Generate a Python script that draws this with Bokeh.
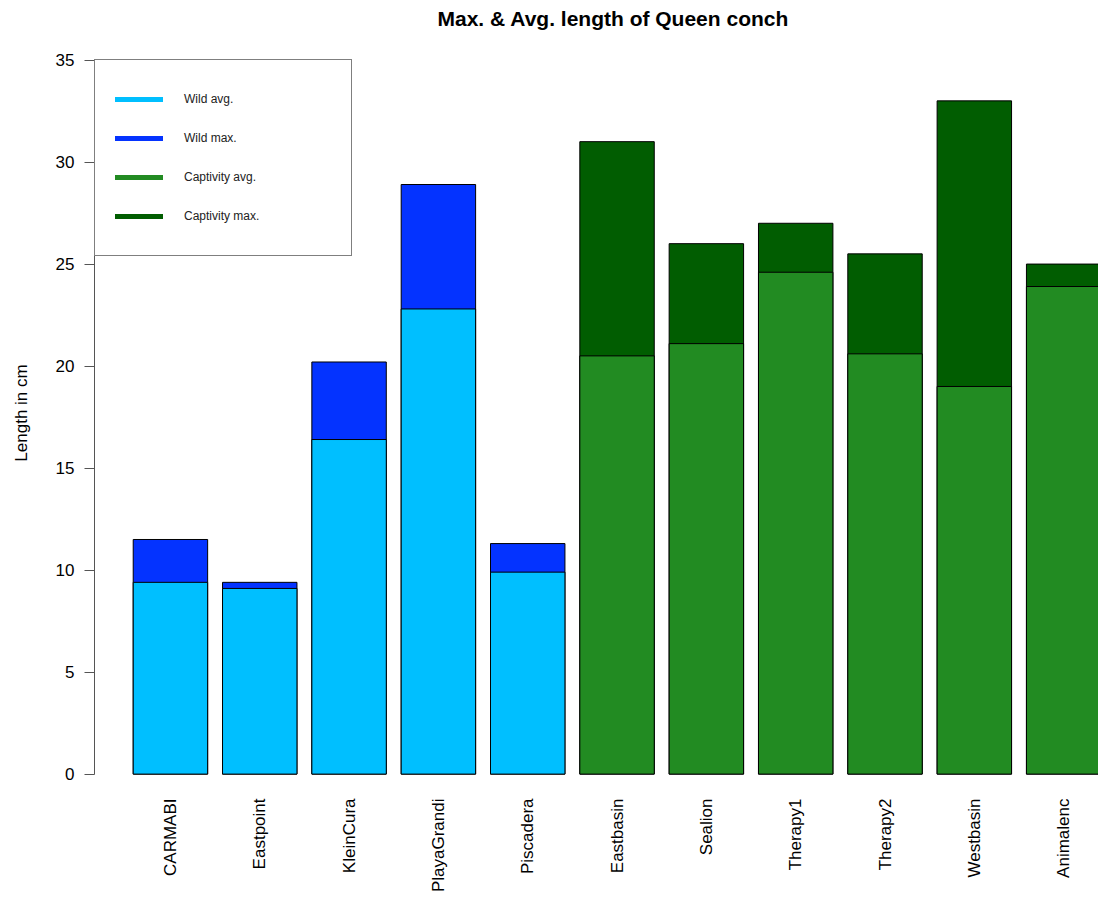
import math

from bokeh.embed import file_html
from bokeh.models import (ColumnDataSource, CustomJSTickFormatter, FixedTicker,
                          Legend, LegendItem, Range1d)
from bokeh.plotting import figure
from bokeh.resources import INLINE

# Queen conch shell lengths (cm) per site
sites = ["CARMABI", "Eastpoint", "KleinCura", "PlayaGrandi", "Piscadera",
         "Eastbasin", "Sealion", "Therapy1", "Therapy2", "Westbasin", "Animalenc"]
group = ["Wild"] * 5 + ["Captivity"] * 6
avg_len = [9.4, 9.1, 16.4, 22.8, 9.9, 20.5, 21.1, 24.6, 20.6, 19.0, 23.9]
max_len = [11.5, 9.4, 20.2, 28.9, 11.3, 31.0, 26.0, 27.0, 25.5, 33.0, 25.0]
y_ticks = [0, 5, 10, 15, 20, 25, 30, 35]

colors = {
    "Wild avg.": "#00BFFF",
    "Wild max.": "#0433FF",
    "Captivity avg.": "#228B22",
    "Captivity max.": "#015D01",
}

FONT = "Liberation Sans"

src = ColumnDataSource(dict(
    x=list(range(len(sites))),
    site=sites,
    avg=avg_len,
    mx=max_len,
    avg_color=[colors[g + " avg."] for g in group],
    max_color=[colors[g + " max."] for g in group],
))

p = figure(
    width=1098, height=897,
    x_range=Range1d(-0.85, 10.39),
    y_range=Range1d(-1.0, 36.4),
    output_backend="svg", toolbar_location=None,
    min_border_left=94, min_border_right=0,
    min_border_top=31, min_border_bottom=103,
    background_fill_color="white", border_fill_color="white",
    outline_line_color=None,
)
p.grid.visible = False

# maximum length drawn first, average overlaid from the baseline
p.vbar(x="x", width=1 / 1.2, bottom=0, top="mx", source=src,
       fill_color="max_color", line_color="black", line_width=1)
p.vbar(x="x", width=1 / 1.2, bottom=0, top="avg", source=src,
       fill_color="avg_color", line_color="black", line_width=1)

# title
p.title.text = "Max. & Avg. length of Queen conch"
p.title.text_font = FONT
p.title.text_font_size = "21px"
p.title.text_font_style = "bold"
p.title.align = "left"
p.title.offset = 343
p.title.standoff = 4
p.title.text_color = "black"

# y axis
ya = p.yaxis[0]
ya.ticker = FixedTicker(ticks=y_ticks)
ya.bounds = (0, 35)
ya.axis_label = "Length in cm"
ya.axis_label_text_font = FONT
ya.axis_label_text_font_size = "17px"
ya.axis_label_text_font_style = "normal"
ya.axis_label_text_color = "black"
ya.axis_label_standoff = 22
ya.major_label_text_font = FONT
ya.major_label_text_font_size = "17px"
ya.major_label_text_color = "black"
ya.major_label_standoff = 10
ya.major_tick_out = 10
ya.major_tick_in = 0
ya.minor_tick_line_color = None
ya.axis_line_color = "#555555"
ya.major_tick_line_color = "#555555"

# x axis: site names, vertical
xa = p.xaxis[0]
xa.ticker = FixedTicker(ticks=list(range(len(sites))))
xa.formatter = CustomJSTickFormatter(args=dict(names=sites),
                                     code="return names[Math.round(tick)] || '';")
xa.major_label_orientation = math.pi / 2
xa.major_label_text_font = FONT
xa.major_label_text_font_size = "17px"
xa.major_label_text_color = "black"
xa.major_label_standoff = 4
xa.major_tick_out = 0
xa.major_tick_in = 0
xa.axis_line_color = None
xa.major_tick_line_color = None
xa.minor_tick_line_color = None

# legend entries as thick round-capped lines (no drawn data of their own)
items = []
for name, col in colors.items():
    r = p.line(x=[float("nan")], y=[float("nan")], line_color=col,
               line_width=5, line_cap="round")
    items.append(LegendItem(label=name, renderers=[r]))

legend = Legend(
    items=items,
    location=(0, 538),
    padding=20, spacing=1, margin=0,
    glyph_width=48, glyph_height=38,
    label_standoff=21, label_width=147, label_height=20,
    label_text_font=FONT, label_text_font_size="12px",
    label_text_color="#222222",
    border_line_color="black", border_line_width=1,
    background_fill_color="white", background_fill_alpha=1,
)
p.add_layout(legend, "center")

open("out.html", "w").write(file_html(p, INLINE))
